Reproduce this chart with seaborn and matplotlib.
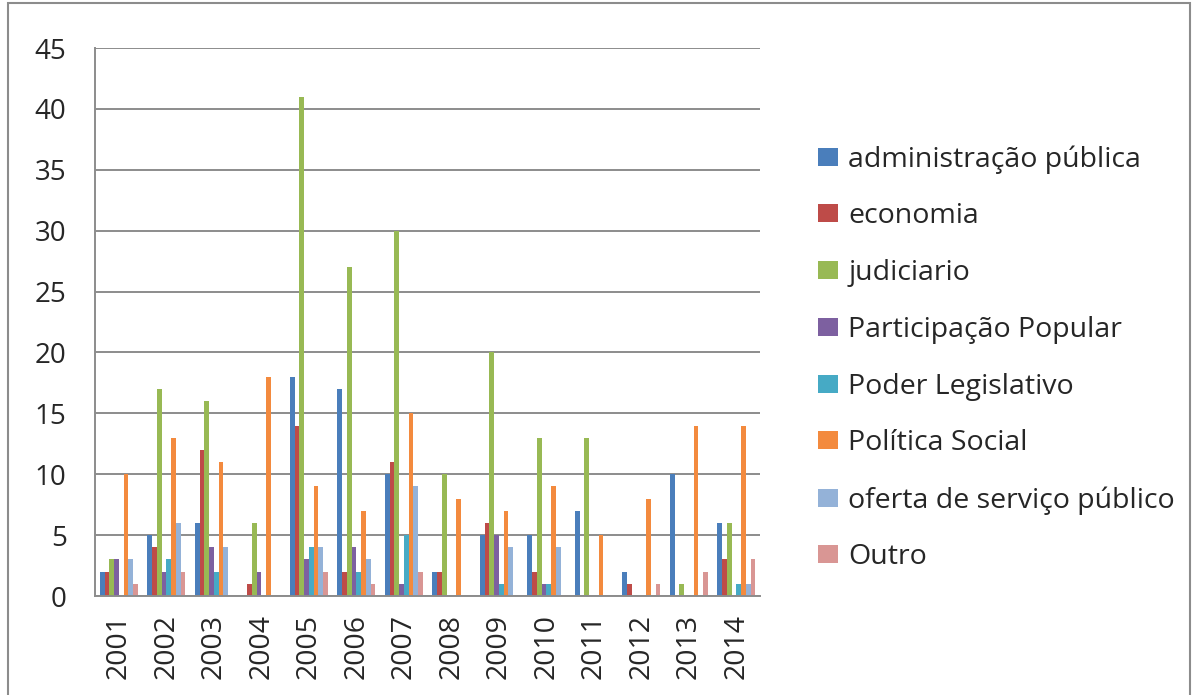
import matplotlib

matplotlib.use("Agg")
import matplotlib.pyplot as plt
import numpy as np
import pandas as pd
import seaborn as sns
from matplotlib.patches import Patch, Rectangle

# %% Data
years = [str(y) for y in range(2001, 2015)]
series = [
    "administração pública",
    "economia",
    "judiciario",
    "Participação Popular",
    "Poder Legislativo",
    "Política Social",
    "oferta de serviço público",
    "Outro",
]
administracao = [2, 5, 6, 0, 18, 17, 10, 2, 5, 5, 7, 2, 10, 6]
economia = [2, 4, 12, 1, 14, 2, 11, 2, 6, 2, 0, 1, 0, 3]
judiciario = [3, 17, 16, 6, 41, 27, 30, 10, 20, 13, 13, 0, 1, 6]
participacao = [3, 2, 4, 2, 3, 4, 1, 0, 5, 1, 0, 0, 0, 0]
legislativo = [0, 3, 2, 0, 4, 2, 5, 0, 1, 1, 0, 0, 0, 1]
politica_social = [10, 13, 11, 18, 9, 7, 15, 8, 7, 9, 5, 8, 14, 14]
oferta = [3, 6, 4, 0, 4, 3, 9, 0, 4, 4, 0, 0, 0, 1]
outro = [1, 2, 0, 0, 2, 1, 2, 0, 0, 0, 0, 1, 2, 3]

values = [administracao, economia, judiciario, participacao,
          legislativo, politica_social, oferta, outro]
colors = ["#4A7EBB", "#BE4B48", "#98B954", "#7D60A0",
          "#46AAC5", "#F38A3E", "#94B2D8", "#D99694"]

df = pd.DataFrame(
    [(y, s, v) for s, vals in zip(series, values) for y, v in zip(years, vals)],
    columns=["ano", "tema", "n"],
)

# %% Plot
sns.set_style("white")
plt.rcParams["font.family"] = ["Open Sans", "DejaVu Sans"]

fig = plt.figure(figsize=(11.94, 6.95), dpi=100)
ax = fig.add_axes([0.0796, 0.1424, 0.557, 0.7885])

sns.barplot(
    data=df, x="ano", y="n", hue="tema", hue_order=series, order=years,
    palette=colors, width=0.8, saturation=1, linewidth=0, ax=ax, legend=False,
)

ax.set_ylim(0, 45)
ax.set_yticks(np.arange(0, 46, 5))
ax.set_xlim(-0.5, len(years) - 0.5)
ax.yaxis.grid(True, color="#8C8C8C", lw=1.4)
ax.set_axisbelow(True)
ax.set_xlabel("")
ax.set_ylabel("")

for side in ["top", "right"]:
    ax.spines[side].set_visible(False)
for side in ["left", "bottom"]:
    ax.spines[side].set_color("#8C8C8C")
    ax.spines[side].set_linewidth(1.4)

ax.tick_params(axis="y", labelsize=20, length=8.5, color="#8C8C8C", width=1.4, pad=12)
ax.tick_params(axis="x", which="major", labelsize=20.5, length=0, rotation=90, pad=13)
ax.set_xticks(np.arange(-0.5, len(years), 1), minor=True)
ax.tick_params(axis="x", which="minor", length=8, color="#8C8C8C", width=1.4)

handles = [Patch(facecolor=c, edgecolor="none") for c in colors]
fig.legend(
    handles, series, loc="upper left", bbox_to_anchor=(0.664, 0.828),
    frameon=False, fontsize=20.5, handlelength=0.7, handleheight=0.6,
    handletextpad=0.35, labelspacing=1.01,
)

# outer chart frame
fig.patches.append(Rectangle((0.007, -0.01), 0.99, 1.005, transform=fig.transFigure,
                             fill=False, edgecolor="#8C8C8C", lw=1.5))

plt.savefig("out.png", dpi=100)
plt.close()
